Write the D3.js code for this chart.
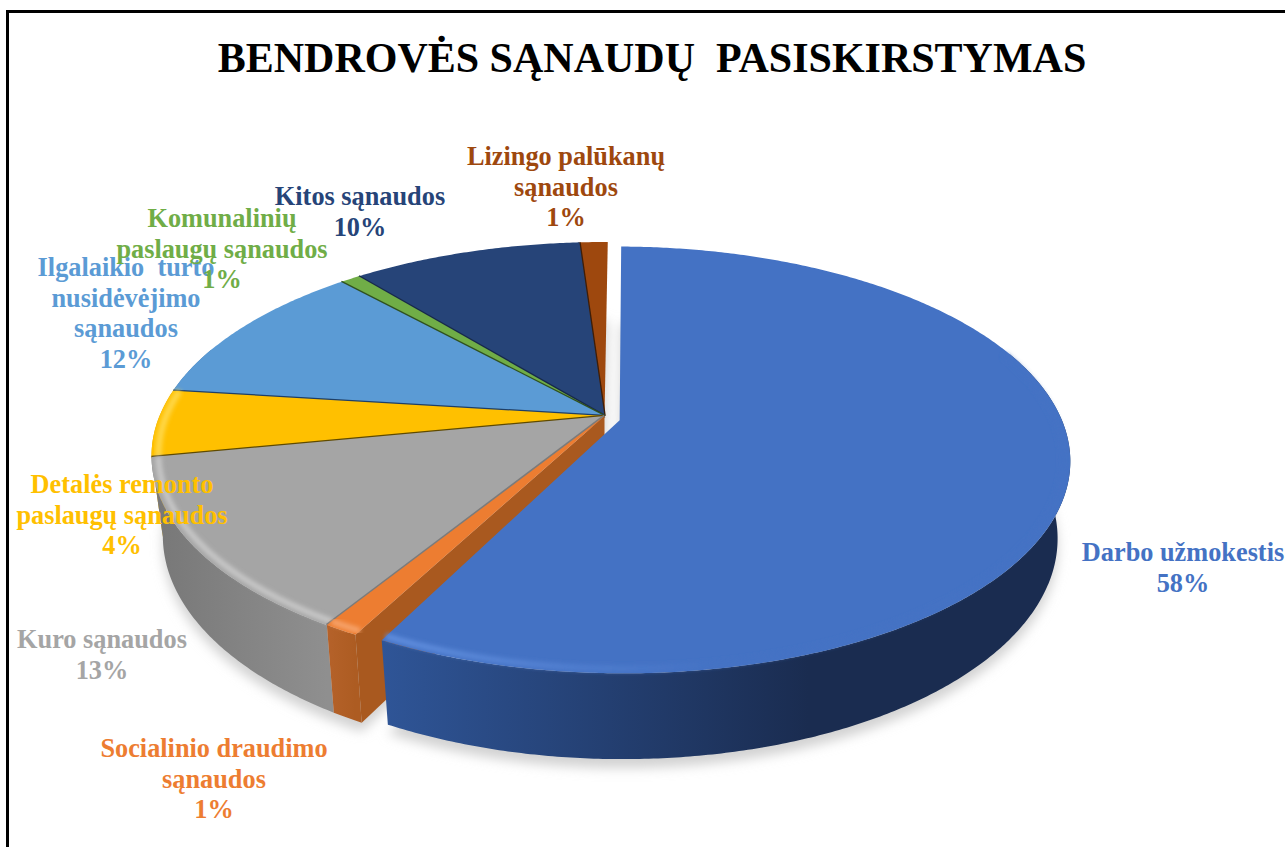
<!DOCTYPE html>
<html><head><meta charset="utf-8">
<script src="https://cdn.jsdelivr.net/npm/d3@7/dist/d3.min.js"></script>
<style>html,body{margin:0;padding:0;background:#fff;overflow:hidden}svg{display:block}</style>
</head><body><svg id="chart" width="1285" height="847"></svg>
<script>
const titleText = "BENDROVĖS SĄNAUDŲ  PASISKIRSTYMAS";
const categories = [
  ["Darbo užmokestis"],
  ["Socialinio draudimo","sąnaudos"],
  ["Kuro sąnaudos"],
  ["Detalės remonto","paslaugų sąnaudos"],
  ["Ilgalaikio  turto","nusidėvėjimo","sąnaudos"],
  ["Komunalinių","paslaugų sąnaudos"],
  ["Kitos sąnaudos"],
  ["Lizingo palūkanų","sąnaudos"]
];
const shares = [57.4, 1.05, 13.1, 5.05, 11.2, 0.86, 9.8, 1.2];
const percentLabels = ["58%","1%","13%","4%","12%","1%","10%","1%"];

const topColors  = ["#4472C4","#ED7D31","#A5A5A5","#FFC000","#5B9BD5","#70AD47","#264478","#9E480E"];
const edgeColors = ["#2f5597","#8f4a1a","#7b7b7b","#5f4a00","#1f3f66","#2f5020","#17294a","#3f1d06"];
const wallFrom   = ["#2f5597","#b5622a","#777777","#d9a300","#4a7fb0","#5a8a38","#1d3560","#7a380b"];
const wallTo     = ["#1a2c50","#ad5c22","#8f8f8f","#d9a300","#4a7fb0","#5a8a38","#1d3560","#7a380b"];
const rimColors  = ["#5f8ddd","#f6a269","#c6c6c6","#ffd84a",null,null,null,null];
const explode    = [0.035,0,0,0,0,0,0,0];
const explodeDrop= [0.012,0,0,0,0,0,0,0];
const radii      = [0.99,1,1,1,1,1,1,1];
const trimStart  = [0.1,0,0,0,0,0,0,0];
const trimEnd    = [0.8,0,0,0,0,0,0,0];
const labelCenters = [[1183,561],[214,757],[102,648],[122,493],[126,276],[222,227],[360,205],[566,165]];

const cx=604.5, cy=416, A=206.5, B=445, P=0.187, DEPTH=78, SHRINK=0.975, DEG=Math.PI/180;
const FONT='"Liberation Serif","Times New Roman",serif';

const svg=d3.select("#chart");
const defs=svg.append("defs");
[["b2",2.2],["b6",6]].forEach(([id,s])=>{
  defs.append("filter").attr("id",id).attr("x","-20%").attr("y","-20%").attr("width","140%").attr("height","140%")
    .append("feGaussianBlur").attr("stdDeviation",s);
});
const scaleX=d3.scaleLinear().domain([-1,1]).range([cx-B,cx+B]);
const scaleY=d3.scaleLinear().domain([-1,1]).range([cy-A,cy+A]);

const pies=d3.pie().sort(null).value(d=>d).startAngle(0.5*DEG).endAngle(360.5*DEG)(shares);
function pt(theta,r,i,low){
  const mid=(pies[i].startAngle+pies[i].endAngle)/2;
  const rr=r*radii[i];
  const u=rr*Math.sin(theta)+explode[i]*Math.sin(mid);
  const v=-rr*Math.cos(theta)-explode[i]*Math.cos(mid)+(low?0:explodeDrop[i]);
  const w=1-P*v, s=low?SHRINK:1, d=low?DEPTH:0;
  return [cx+(scaleX(u)-cx)*s/w, cy+((scaleY(v)-cy)*s+d)/w];
}
const line=d3.line();
const sweep=(a,b)=>{const n=Math.max(2,Math.ceil((b-a)/(0.5*DEG)));return d3.range(n+1).map(k=>a+(b-a)*k/n);};
const startOf=i=>pies[i].startAngle+trimStart[i]*DEG;
const endOf=i=>pies[i].endAngle-trimEnd[i]*DEG;

svg.append("rect").attr("width",1285).attr("height",847).attr("fill","#fff");
svg.append("path").attr("d",line([[7.5,847],[7.5,11.5],[1285,11.5]])).attr("fill","none").attr("stroke","#000").attr("stroke-width",3);

// soft floor shadow
const shadow=svg.append("g").attr("filter","url(#b6)").attr("transform","translate(0,9)");
pies.forEach((p,i)=>{
  const a=sweep(startOf(i),endOf(i)).map(t=>pt(t,1,i,true));
  shadow.append("path").attr("d",line([pt(0,0,i,true),...a])+"Z").attr("fill","#d2d2d2");
});

const order=d3.range(pies.length).reverse();
order.forEach(i=>{
  const g=svg.append("g");
  const a0=startOf(i), a1=endOf(i);
  const lo=Math.max(a0,70*DEG), hi=Math.min(a1,290*DEG);
  if(hi>lo){
    const rim=sweep(lo,hi).map(t=>pt(t,1,i,false));
    const bot=sweep(lo,hi).map(t=>pt(t,1,i,true)).reverse();
    const ex=d3.extent(rim,d=>d[0]);
    const x0=ex[0], x1=i===0?ex[0]+(ex[1]-ex[0])*0.62:ex[1];
    const grad=defs.append("linearGradient").attr("id","wall"+i).attr("gradientUnits","userSpaceOnUse")
      .attr("x1",x0).attr("x2",x1).attr("y1",0).attr("y2",0);
    grad.append("stop").attr("offset",0).attr("stop-color",wallFrom[i]);
    grad.append("stop").attr("offset",1).attr("stop-color",wallTo[i]);
    g.append("path").attr("d",line([...rim,...bot])+"Z").attr("fill",`url(#wall${i})`);
  }
  // exposed cut face along the leading edge of the slice
  const f0=pt(a0,0,i,false), f1=pt(a0,1,i,false), f2=pt(a0,1,i,true), f3=pt(a0,0,i,true);
  if(i===1) g.append("path").attr("d",line([f0,f1,f2,f3])+"Z").attr("fill","#a9591f");

  // top face
  const topPts=sweep(a0,a1).map(t=>pt(t,1,i,false));
  g.append("path").attr("d",line([pt(0,0,i,false),...topPts])+"Z").attr("fill",topColors[i]);

  // bevel highlight on the rim
  if(rimColors[i] && hi>lo){
    const rim=sweep(lo,hi).map(t=>pt(t,0.985,i,false));
    const ex=d3.extent(rim,d=>d[0]);
    let stroke=rimColors[i];
    if(i===0){
      const h=defs.append("linearGradient").attr("id","rim0").attr("gradientUnits","userSpaceOnUse")
        .attr("x1",ex[0]).attr("x2",ex[0]+330).attr("y1",0).attr("y2",0);
      h.append("stop").attr("offset",0).attr("stop-color",rimColors[0]);
      h.append("stop").attr("offset",1).attr("stop-color",topColors[0]);
      stroke="url(#rim0)";
    }
    g.append("path").attr("d",line(rim)).attr("fill","none").attr("stroke",stroke)
      .attr("stroke-width",6).attr("filter","url(#b2)");
  }
  // dark seam on the leading edge
  if(i>1) g.append("path").attr("d",line([f0,f1])).attr("stroke",edgeColors[i]).attr("stroke-width",i===2?3:2.6).attr("fill","none");
});

svg.append("text").attr("x",652).attr("y",72).attr("text-anchor","middle")
  .attr("font-family",FONT).attr("font-weight",700).attr("font-size",42)
  .style("white-space","pre").attr("fill","#000").text(titleText);

categories.forEach((lines,i)=>{
  const t=svg.append("text").attr("text-anchor","middle").attr("font-family",FONT).attr("font-weight",700)
    .attr("font-size",26.3).attr("fill",topColors[i]).style("white-space","pre");
  [...lines,percentLabels[i]].forEach((s,k)=>{
    t.append("tspan").attr("x",labelCenters[i][0]).attr("y",labelCenters[i][1]+k*30.7).text(s);
  });
});
</script></body></html>
